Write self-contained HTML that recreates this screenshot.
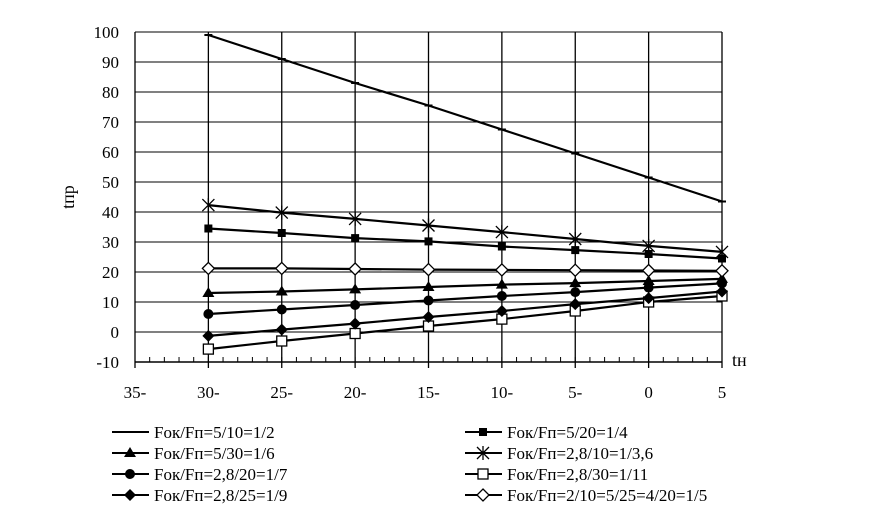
<!DOCTYPE html>
<html><head><meta charset="utf-8"><style>
body{margin:0;background:#fff;width:884px;height:520px;overflow:hidden}
svg{font-family:"Liberation Serif",serif;}
</style></head><body>
<svg id="c" width="884" height="520"></svg>
<script>
const categories=[-30,-25,-20,-15,-10,-5,0,5];
const xTicks=["35-","30-","25-","20-","15-","10-","5-","0","5"];
const xTickVals=[-35,-30,-25,-20,-15,-10,-5,0,5];
const yTicks=[-10,0,10,20,30,40,50,60,70,80,90,100];
const s1=[99,91,83,75.5,67.5,59.5,51.5,43.5];
const s2=[34.5,33,31.3,30.2,28.5,27.3,26,24.5];
const s3=[13,13.5,14.2,15,15.8,16.3,17,17.7];
const s4=[42.3,39.8,37.7,35.5,33.3,31,28.7,26.7];
const s5=[6,7.5,9,10.5,12,13.3,14.8,16.2];
const s6=[-5.7,-3,-0.5,2,4.3,7,10,12];
const s7=[-1.3,0.8,2.8,5,7,9.3,11.3,13.5];
const s8=[21.2,21.2,21,20.8,20.7,20.6,20.5,20.4];
const names=["Fок/Fп=5/10=1/2","Fок/Fп=5/20=1/4","Fок/Fп=5/30=1/6","Fок/Fп=2,8/10=1/3,6","Fок/Fп=2,8/20=1/7","Fок/Fп=2,8/30=1/11","Fок/Fп=2,8/25=1/9","Fок/Fп=2/10=5/25=4/20=1/5"];
const NS="http://www.w3.org/2000/svg";
const svg=document.getElementById('c');
const X0=135,X1=722,Y0=362,Y1=32;
const xs=v=>X0+(v+35)/40*(X1-X0);
const ys=v=>Y0-(v+10)/110*(Y0-Y1);
function el(t,a,p){const e=document.createElementNS(NS,t);for(const k in a)e.setAttribute(k,a[k]);(p||svg).appendChild(e);return e;}
// grid
yTicks.forEach(v=>{
const l=el('line',{x1:X0,x2:X1,y1:ys(v),y2:ys(v),stroke:'#000','stroke-width':1});


const t=el('text',{x:X0-16,y:ys(v)+6,'text-anchor':'end','font-size':17});
t.textContent=v;


});
xTickVals.forEach((v,i)=>{
const l=el('line',{x1:xs(v),x2:xs(v),y1:Y1,y2:Y0+6,stroke:'#000','stroke-width':1.3});


const t=el('text',{x:xs(v),y:Y0+36,'text-anchor':'middle','font-size':17});
t.textContent=xTicks[i];


});
for(let v=-35;v<=5;v++){el('line',{x1:xs(v),x2:xs(v),y1:Y0-5,y2:Y0,stroke:'#000','stroke-width':1});}
el('line',{x1:X0,x2:X1,y1:Y0,y2:Y0,stroke:'#000','stroke-width':1.5});
const yl=el('text',{x:74,y:197,'font-size':18,transform:'rotate(-90 74 197)','text-anchor':'middle'});yl.textContent='tпр';

const xl=el('text',{x:732,y:366,'font-size':18});xl.textContent='tн';

function marker(type,x,y,g){
 const s={stroke:'#000','stroke-width':1.3};
 if(type==='dash')el('line',{x1:x-4,x2:x+4,y1:y,y2:y,stroke:'#000','stroke-width':2},g);
 else if(type==='sq')el('rect',{x:x-4,y:y-4,width:8,height:8,fill:'#000'},g);
 else if(type==='tri')el('polygon',{points:`${x},${y-6} ${x+6},${y+4} ${x-6},${y+4}`,fill:'#000'},g);
 else if(type==='star'){el('path',{d:`M${x-6} ${y-6}L${x+6} ${y+6}M${x-6} ${y+6}L${x+6} ${y-6}M${x} ${y-7}L${x} ${y+7}`,...s},g);}
 else if(type==='circ')el('circle',{cx:x,cy:y,r:5,fill:'#000'},g);
 else if(type==='osq')el('rect',{x:x-5,y:y-5,width:10,height:10,fill:'#fff',...s},g);
 else if(type==='dia')el('polygon',{points:`${x},${y-6} ${x+6},${y} ${x},${y+6} ${x-6},${y}`,fill:'#000'},g);
 else if(type==='odia')el('polygon',{points:`${x},${y-6} ${x+6},${y} ${x},${y+6} ${x-6},${y}`,fill:'#fff',...s},g);
}
const series=[s1,s2,s3,s4,s5,s6,s7,s8];
const mk=['dash','sq','tri','star','circ','osq','dia','odia'];
series.forEach((d,si)=>{
 const g=el('g',{});
 
 
 el('polyline',{points:d.map((v,i)=>xs(categories[i])+','+ys(v)).join(' '),fill:'none',stroke:'#000','stroke-width':2.2},g);
 d.forEach((v,i)=>marker(mk[si],xs(categories[i]),ys(v),g));
});
// legend
names.forEach((n,i)=>{
 const col=i%2,row=Math.floor(i/2);
 const x=col?465:112,y=432+row*21;
 const g=el('g',{});
 
 
 el('line',{x1:x,x2:x+37,y1:y,y2:y,stroke:'#000','stroke-width':2},g);
 marker(mk[i],x+18,y,g);
 const t=el('text',{x:x+42,y:y+6,'font-size':17},g);t.textContent=n;
});
</script>
</body></html>
